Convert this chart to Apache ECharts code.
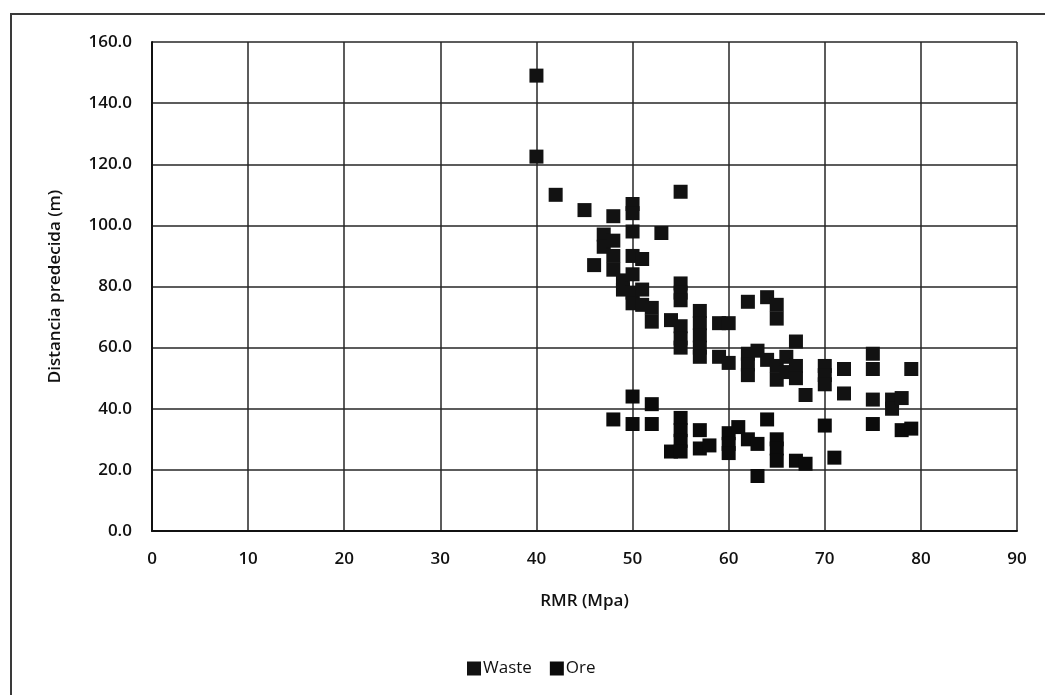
<!DOCTYPE html>
<html>
<head>
<meta charset="utf-8">
<script src="https://cdn.jsdelivr.net/npm/echarts@6/dist/echarts.min.js"></script>
<style>
  html, body { margin: 0; padding: 0; background: #fff; }
  #chart { width: 1045px; height: 695px; }
</style>
</head>
<body>
<div id="chart"></div>
<script>
// RMR vs predicted distance, two rock groups
const wasteRMR = [40, 40, 42, 45, 48, 50, 50, 55,
  47, 47, 48, 48, 48, 46, 50, 53,
  50, 51, 49, 50, 49, 50, 51, 50, 51, 52, 52,
  55, 55, 55, 54, 55, 55, 55,
  57, 57, 57, 57, 57,
  59, 60, 59, 60,
  62, 64, 65, 65,
  62, 62, 62, 63, 64, 65, 65, 66, 66, 67, 67, 67, 68,
  70, 70, 70, 72, 72,
  75, 75, 75, 77, 77, 78, 79];
const wasteDist = [149, 122.5, 110, 105, 103, 107, 104, 111,
  97, 93, 95, 90, 85.5, 87, 98, 97.5,
  90, 89, 82, 84, 79, 78, 79, 74.5, 74, 73, 68.5,
  81, 78, 75.5, 69, 67, 63, 60,
  72, 68, 64, 60, 57,
  68, 68, 57, 55,
  75, 76.5, 74, 69.5,
  58, 54.5, 51, 59, 56, 54, 49.5, 57, 52, 62, 54, 50, 44.5,
  54, 51, 48, 53, 45,
  58, 53, 43, 43, 40, 43.5, 53];

const oreRMR = [48, 50, 50, 52, 52, 54, 55, 55, 55, 55,
  57, 57, 58, 60, 60, 60, 61, 62, 63, 63, 64,
  65, 65, 65, 67, 68, 70, 71, 75, 78, 79];
const oreDist = [36.5, 44, 35, 41.5, 35, 26, 37, 33, 29.5, 26,
  33, 27, 28, 32, 28.5, 25.5, 34, 30, 28.5, 18, 36.5,
  30, 27, 23, 23, 22, 34.5, 24, 35, 33, 33.5];

const xTicks = { min: 0, max: 90, step: 10 };
const yTicks = { min: 0, max: 160, step: 20 };

const pairs = (xs, ys) => xs.map((x, i) => [x, ys[i]]);

const font = 'Open Sans';
const gridLine = { lineStyle: { color: '#262626', width: 1.5 } };
const textBase = { fontFamily: font, fontSize: 17, fontWeight: 600, color: '#111' };

const chart = echarts.init(document.getElementById('chart'));
chart.setOption({
  animation: false,
  backgroundColor: '#fff',
  graphic: [{
    type: 'rect',
    shape: { x: 11, y: 14, width: 1100, height: 720 },
    style: { fill: 'none', stroke: '#3a3a3a', lineWidth: 2 },
    silent: true
  }],
  grid: { left: 152, right: 28, top: 42, bottom: 164 },
  legend: {
    left: 462, top: 655,
    itemWidth: 14, itemHeight: 14, itemGap: 18,
    textStyle: { ...textBase, fontWeight: 500, padding: [0, 0, 0, -3] },
    data: [{ name: 'Waste', icon: 'rect' }, { name: 'Ore', icon: 'rect' }]
  },
  xAxis: {
    type: 'value', min: xTicks.min, max: xTicks.max, interval: xTicks.step,
    name: 'RMR (Mpa)', nameLocation: 'middle', nameGap: 62,
    nameTextStyle: textBase,
    axisLine: { show: true, lineStyle: { color: '#111', width: 2 } },
    axisTick: { show: false },
    axisLabel: { ...textBase, margin: 20 },
    splitLine: { show: true, ...gridLine }
  },
  yAxis: {
    type: 'value', min: yTicks.min, max: yTicks.max, interval: yTicks.step,
    name: 'Distancia predecida (m)', nameLocation: 'middle', nameGap: 88,
    nameTextStyle: textBase,
    axisLine: { show: true, lineStyle: { color: '#111', width: 2 } },
    axisTick: { show: false },
    axisLabel: { ...textBase, margin: 20, formatter: v => v.toFixed(1) },
    splitLine: { show: true, ...gridLine }
  },
  series: [
    {
      name: 'Waste', type: 'scatter', symbol: 'rect', symbolSize: 14,
      itemStyle: { color: '#121212', opacity: 1, borderRadius: 2 },
      data: pairs(wasteRMR, wasteDist)
    },
    {
      name: 'Ore', type: 'scatter', symbol: 'rect', symbolSize: 14,
      itemStyle: { color: '#0b0b0b', opacity: 1, borderRadius: 2 },
      data: pairs(oreRMR, oreDist)
    }
  ]
});
</script>
</body>
</html>
